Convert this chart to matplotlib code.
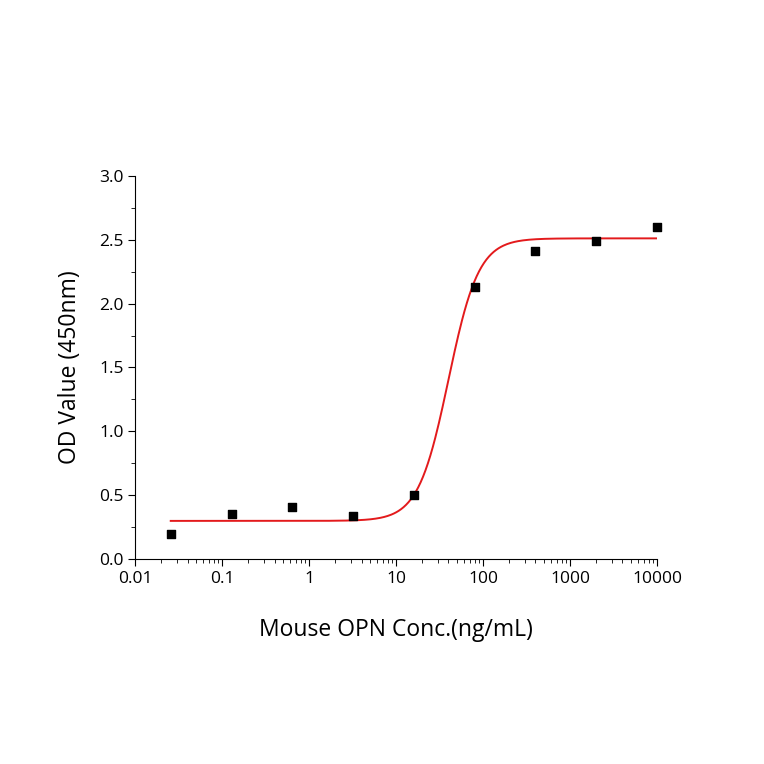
import numpy as np
import matplotlib
matplotlib.use("Agg")
import matplotlib.pyplot as plt

plt.rcParams["font.family"] = ["Open Sans", "DejaVu Sans"]

# ===== DATA =====
conc = [0.0256, 0.128, 0.64, 3.2, 16, 80, 400, 2000, 10000]
od = [0.20, 0.355, 0.41, 0.335, 0.50, 2.13, 2.41, 2.49, 2.60]

# 4PL fit parameters
bottom, top, ec50, hill = 0.30, 2.51, 40.0, 2.5

fig = plt.figure(figsize=(7.64, 7.64), dpi=100)
ax = fig.add_axes([0.177, 0.268, 0.683, 0.502])

xs = np.logspace(np.log10(conc[0]), np.log10(conc[-1]), 400)
ys = bottom + (top - bottom) / (1 + (ec50 / xs) ** hill)
ax.plot(xs, ys, color="#e31a1c", lw=1.4)
ax.scatter(conc, od, marker="s", s=38, color="black", zorder=3, clip_on=False)

ax.set_xscale("log")
ax.set_xlim(0.01, 10000)
ax.set_ylim(0, 3.0)
ax.set_xticks([0.01, 0.1, 1, 10, 100, 1000, 10000])
ax.set_xticklabels(["0.01", "0.1", "1", "10", "100", "1000", "10000"])
ax.set_yticks(np.arange(0, 3.01, 0.5))
ax.set_yticklabels([f"{v:.1f}" for v in np.arange(0, 3.01, 0.5)])
ax.set_yticks(np.arange(0.25, 3.0, 0.5), minor=True)

for s in ["top", "right"]:
    ax.spines[s].set_visible(False)
ax.tick_params(which="both", direction="out", labelsize=12.5)
ax.tick_params(which="major", length=5)
ax.tick_params(which="minor", length=3)

ax.set_xlabel("Mouse OPN Conc.(ng/mL)", fontsize=16.5, labelpad=22)
ax.set_ylabel("OD Value (450nm)", fontsize=16.5, labelpad=12)

plt.savefig("out.png", dpi=100)
